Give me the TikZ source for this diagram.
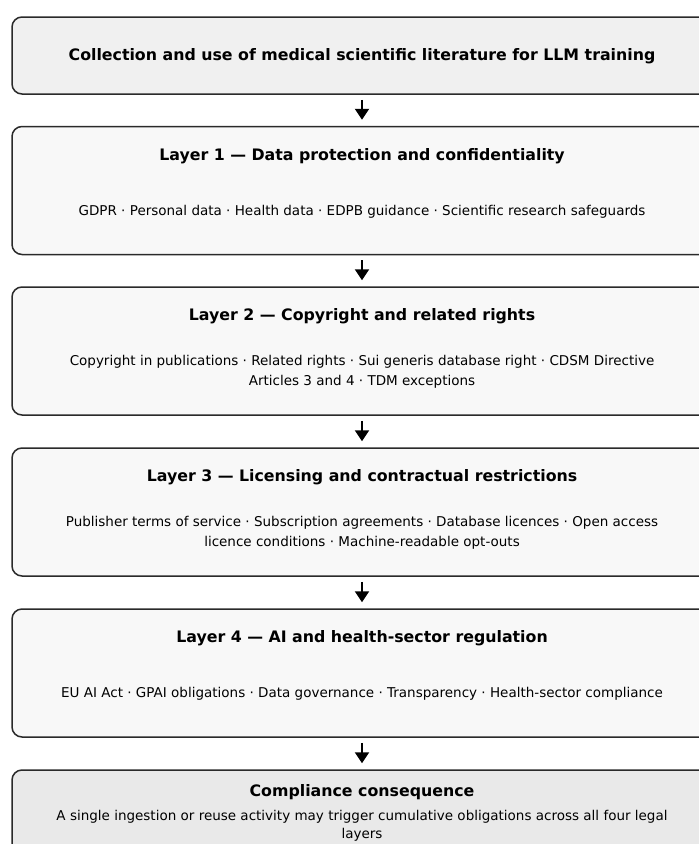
\documentclass[tikz,border=0pt]{standalone}
\usepackage{fontspec}
\setmainfont{DejaVu Sans}
\usetikzlibrary{positioning,arrows.meta}

\definecolor{srcfill}{HTML}{F0F0F0}
\definecolor{layerfill}{HTML}{F8F8F8}
\definecolor{outfill}{HTML}{E9E9E9}
\definecolor{edge}{HTML}{2A2A2A}

\tikzset{
  box/.style={draw=edge, line width=1.5pt, rounded corners=10pt, minimum width=700pt, inner sep=0pt},
  layerbox/.style={box, fill=layerfill, minimum height=128pt},
  heading/.style={font=\bfseries\fontsize{15.8}{18}\selectfont, inner sep=0pt},
  items/.style={font=\fontsize{13.5}{20}\selectfont, align=center, inner sep=0pt},
  flow/.style={-{Triangle[length=11pt,width=14pt]}, line width=2pt, black, shorten <=5pt, shorten >=6pt}
}

\begin{document}
\begin{tikzpicture}[x=1pt,y=1pt]
\useasboundingbox (0,0) rectangle (699,-844);
\clip (0,0) rectangle (699,-844);

% Source
\node[box, fill=srcfill, minimum height=77pt] (src) at (362,-55.5) {};
\node[heading] (srct) at ([yshift=-1pt]src.center) {Collection and use of medical scientific literature for LLM training};

% Layers
\node[layerbox, below=31pt of src] (L1) {};
\node[heading] (L1t) at ([yshift=-30pt]L1.north) {Layer 1 — Data protection and confidentiality};
\node[items] (L1b) at ([yshift=-86pt]L1.north) {GDPR · Personal data · Health data · EDPB guidance · Scientific research safeguards};

\node[layerbox, below=31pt of L1] (L2) {};
\node[heading] (L2t) at ([yshift=-30pt]L2.north) {Layer 2 — Copyright and related rights};
\node[items] (L2b) at ([yshift=-86pt]L2.north) {Copyright in publications · Related rights · Sui generis database right · CDSM Directive\\Articles 3 and 4 · TDM exceptions};

\node[layerbox, below=31.5pt of L2] (L3) {};
\node[heading] (L3t) at ([yshift=-30pt]L3.north) {Layer 3 — Licensing and contractual restrictions};
\node[items] (L3b) at ([yshift=-86pt]L3.north) {Publisher terms of service · Subscription agreements · Database licences · Open access\\licence conditions · Machine-readable opt-outs};

\node[layerbox, below=31.5pt of L3] (L4) {};
\node[heading] (L4t) at ([yshift=-30pt]L4.north) {Layer 4 — AI and health-sector regulation};
\node[items] (L4b) at ([yshift=-86pt]L4.north) {EU AI Act · GPAI obligations · Data governance · Transparency · Health-sector compliance};

% Outcome
\node[box, fill=outfill, minimum height=128pt, below=31.5pt of L4] (out) {};
\node[heading] (outt) at ([yshift=-23pt]out.north) {Compliance consequence};
\node[items, font=\fontsize{13.5}{18}\selectfont] (outb) at ([yshift=-57pt]out.north) {A single ingestion or reuse activity may trigger cumulative obligations across all four legal\\layers};

% Arrows
\foreach \a/\b in {src/L1, L1/L2, L2/L3, L3/L4, L4/out}
  \draw[flow] (\a.south) -- (\b.north);
\end{tikzpicture}
\end{document}
